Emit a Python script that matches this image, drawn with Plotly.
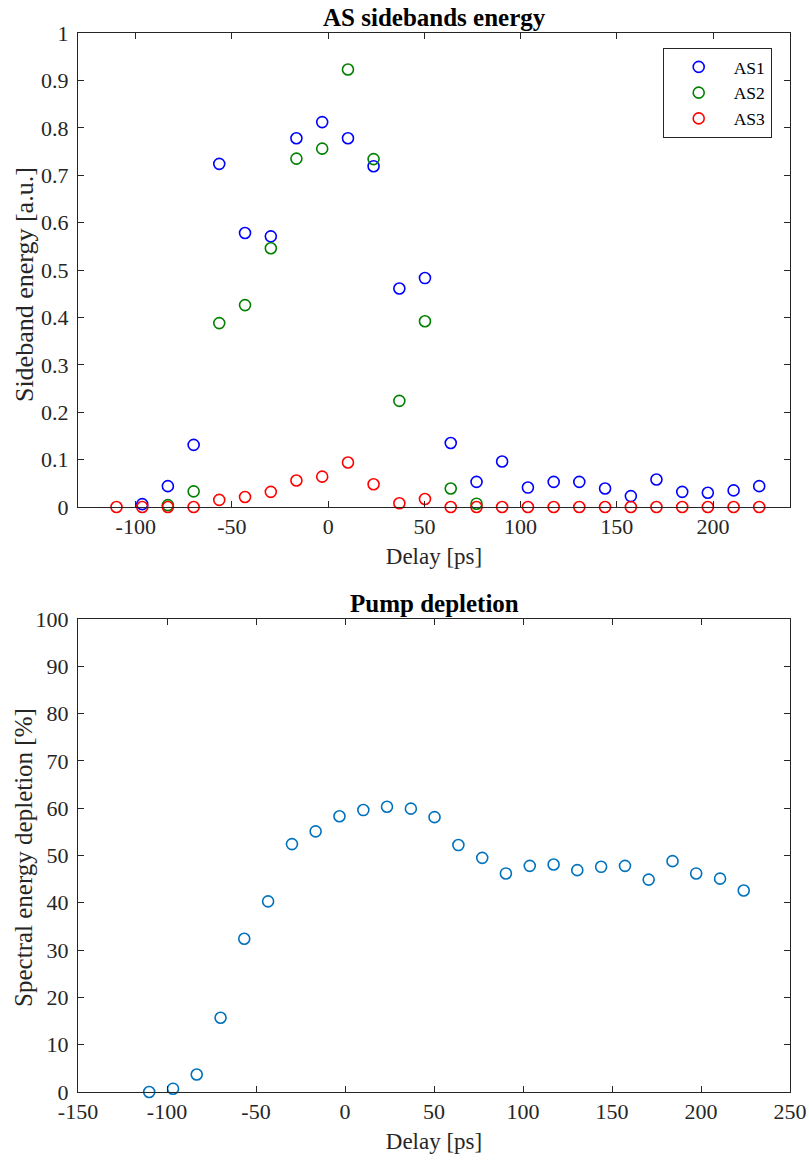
import plotly.graph_objects as go

# ---------------- data ----------------
delay = [-110.0, -96.6, -83.3, -69.9, -56.6, -43.2, -29.8, -16.5, -3.1, 10.3,
         23.6, 37.0, 50.3, 63.7, 77.1, 90.4, 103.8, 117.2, 130.5, 143.9,
         157.3, 170.6, 184.0, 197.3, 210.7, 224.0]

as1_delay = delay[1:]
as1 = [0.006, 0.044, 0.131, 0.724, 0.578, 0.571, 0.778, 0.812, 0.778, 0.719,
       0.461, 0.483, 0.135, 0.053, 0.096, 0.041, 0.053, 0.053, 0.039, 0.023,
       0.058, 0.032, 0.030, 0.035, 0.044]

as2_delay = delay[2:15]
as2 = [0.004, 0.033, 0.388, 0.426, 0.546, 0.735, 0.756, 0.923, 0.734, 0.224,
       0.392, 0.039, 0.007]

as3_delay = delay
as3 = [0.0, 0.0, 0.0, 0.0, 0.015, 0.021, 0.032, 0.056, 0.064, 0.094,
       0.048, 0.008, 0.017, 0.0, 0.0, 0.0, 0.0, 0.0, 0.0, 0.0,
       0.0, 0.0, 0.0, 0.0, 0.0, 0.0]

depletion = [0.0, 0.7, 3.7, 15.7, 32.4, 40.3, 52.4, 55.1, 58.3, 59.6,
             60.3, 59.9, 58.1, 52.2, 49.5, 46.2, 47.8, 48.1, 46.9, 47.6,
             47.8, 44.9, 48.8, 46.2, 45.1, 42.6]

top_xticks = [-100, -50, 0, 50, 100, 150, 200]
top_xtext = ["-100", "-50", "0", "50", "100", "150", "200"]
top_yticks = [0, 0.1, 0.2, 0.3, 0.4, 0.5, 0.6, 0.7, 0.8, 0.9, 1]
top_ytext = ["0", "0.1", "0.2", "0.3", "0.4", "0.5", "0.6", "0.7", "0.8", "0.9", "1"]
bot_xticks = [-150, -100, -50, 0, 50, 100, 150, 200, 250]
bot_xtext = ["-150", "-100", "-50", "0", "50", "100", "150", "200", "250"]
bot_yticks = [0, 10, 20, 30, 40, 50, 60, 70, 80, 90, 100]
bot_ytext = [str(v) for v in bot_yticks]

# ---------------- figure ----------------
FONT = "Liberation Serif, Times New Roman, serif"
AX = "#262626"

fig = go.Figure()

def mk(color):
    return dict(symbol="circle-open", size=11, color=color, line=dict(width=1.6, color=color))

fig.add_trace(go.Scatter(x=as1_delay, y=as1, mode="markers", name="AS1",
                         marker=mk("#0000FF"), cliponaxis=False, xaxis="x", yaxis="y"))
fig.add_trace(go.Scatter(x=as2_delay, y=as2, mode="markers", name="AS2",
                         marker=mk("#008000"), cliponaxis=False, xaxis="x", yaxis="y"))
fig.add_trace(go.Scatter(x=as3_delay, y=as3, mode="markers", name="AS3",
                         marker=mk("#FF0000"), cliponaxis=False, xaxis="x", yaxis="y"))
fig.add_trace(go.Scatter(x=delay, y=depletion, mode="markers", name="Pump",
                         marker=mk("#0072BD"), cliponaxis=False, showlegend=False,
                         xaxis="x2", yaxis="y2"))

axis_common = dict(showline=True, linecolor=AX, linewidth=1, mirror="ticks",
                   ticks="inside", ticklen=6, tickcolor=AX, tickwidth=1,
                   showgrid=False, zeroline=False, automargin=False,
                   tickfont=dict(family=FONT, size=22, color=AX))

fig.update_layout(
    width=809, height=1160,
    margin=dict(l=78, r=19, t=33, b=68),
    paper_bgcolor="white", plot_bgcolor="white",
    font=dict(family=FONT, color=AX),
    xaxis=dict(domain=[0, 1], anchor="y", range=[-130, 240],
               tickvals=top_xticks, ticktext=top_xtext,
               title=dict(text="Delay [ps]", font=dict(family=FONT, size=23, color=AX), standoff=9),
               **axis_common),
    yaxis=dict(domain=[0.5524, 1.0], anchor="x", range=[0, 1],
               tickvals=top_yticks, ticktext=top_ytext, ticklabelstandoff=4,
               **axis_common),
    xaxis2=dict(domain=[0, 1], anchor="y2", range=[-150, 250],
                tickvals=bot_xticks, ticktext=bot_xtext,
                title=dict(text="Delay [ps]", font=dict(family=FONT, size=23, color=AX), standoff=9),
                **axis_common),
    yaxis2=dict(domain=[0.0, 0.4467], anchor="x2", range=[0, 100],
                tickvals=bot_yticks, ticktext=bot_ytext, ticklabelstandoff=4,
                **axis_common),
    legend=dict(x=0.9743, xanchor="right", y=0.9858, yanchor="top",
                bgcolor="white", bordercolor=AX, borderwidth=1,
                font=dict(family=FONT, size=17.5, color="#000000"),
                itemwidth=60, tracegroupgap=0),
    showlegend=True,
)

# y-axis labels (placed like MATLAB's ylabel)
fig.add_annotation(text="Sideband energy [a.u.]", xref="paper", yref="paper",
                   x=-0.0758, y=0.762, xanchor="center", yanchor="middle", textangle=-90,
                   showarrow=False, font=dict(family=FONT, size=26, color=AX))
fig.add_annotation(text="Spectral energy depletion [%]", xref="paper", yref="paper",
                   x=-0.0758, y=0.2211, xanchor="center", yanchor="middle", textangle=-90,
                   showarrow=False, font=dict(family=FONT, size=25, color=AX))

fig.add_annotation(text="<b>AS sidebands energy</b>", xref="x domain", yref="y domain",
                   x=0.5, y=1, xanchor="center", yanchor="bottom", yshift=0, showarrow=False,
                   font=dict(family=FONT, size=25, color="#000000"))
fig.add_annotation(text="<b>Pump depletion</b>", xref="x2 domain", yref="y2 domain",
                   x=0.5, y=1, xanchor="center", yanchor="bottom", yshift=0, showarrow=False,
                   font=dict(family=FONT, size=25, color="#000000"))

fig.write_html("out.html")
